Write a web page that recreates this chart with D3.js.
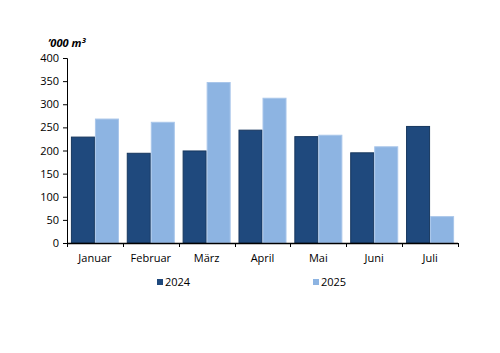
<!DOCTYPE html>
<html>
<head>
<meta charset="utf-8">
<script src="https://cdn.jsdelivr.net/npm/d3@7"></script>
<style>
  body { margin: 0; background: #fff; }
  text { font-family: "Open Sans", sans-serif; fill: #000; }
</style>
</head>
<body>
<div id="chart"></div>
<script>
var months = ["Januar", "Februar", "März", "April", "Mai", "Juni", "Juli"];
var years = ["2024", "2025"];
var values2024 = [229, 194, 199, 244, 230, 195, 252];
var values2025 = [268, 261, 347, 313, 233, 208, 57];
var yTicks = [0, 50, 100, 150, 200, 250, 300, 350, 400];

var colors = {"2024": "#1f497d", "2025": "#8db4e2"};
var strokes = {"2024": "#17375e", "2025": "#a9c6ea"};

var svg = d3.select("#chart")
  .append("svg")
  .attr("width", 500)
  .attr("height", 353);

var padding = {left: 67, right: 42, top: 58, bottom: 110};

var x = d3.scaleBand()
  .domain(months)
  .range([padding.left, 500 - padding.right])
  .paddingInner(0.14)
  .paddingOuter(0.07);

var x2 = d3.scaleBand()
  .domain(years)
  .range([0, x.bandwidth()]);

var y = d3.scaleLinear()
  .domain([0, 400])
  .range([353 - padding.bottom, padding.top]);

var data = months.map(function(m, i){
  return {month: m, vals: [
    {year: "2024", v: values2024[i]},
    {year: "2025", v: values2025[i]}
  ]};
});

var groups = svg.selectAll(".grp")
  .data(data)
  .enter()
  .append("g")
  .attr("class", "grp")
  .attr("transform", function(d){ return "translate(" + x(d.month) + ",0)"; });

groups.selectAll("rect")
  .data(function(d){ return d.vals; })
  .enter()
  .append("rect")
  .attr("x", function(d){ return x2(d.year) + 0.5; })
  .attr("y", function(d){ return y(d.v); })
  .attr("width", x2.bandwidth() - 1)
  .attr("height", function(d){ return y(0) - y(d.v); })
  .attr("fill", function(d){ return colors[d.year]; })
  .attr("stroke", function(d){ return strokes[d.year]; })
  .attr("stroke-width", 1);

// y axis
var yAxis = svg.append("g")
  .attr("transform", "translate(" + padding.left + ",0)")
  .call(d3.axisLeft(y).tickValues(yTicks).tickSize(4).tickPadding(4));
yAxis.select(".domain").attr("stroke", "#000");
yAxis.selectAll("text").style("font-size", "11px");

// x axis, ticks between the groups
var step = x.step();
var edges = d3.range(months.length + 1).map(function(i){
  return x(months[0]) - x.paddingInner() * step / 2 + i * step;
});
var xAxis = svg.append("g").attr("class", "xaxis");
xAxis.append("line")
  .attr("x1", padding.left).attr("x2", edges[edges.length - 1])
  .attr("y1", y(0) + 0.5).attr("y2", y(0) + 0.5)
  .attr("stroke", "#000").attr("stroke-width", 1.5);
xAxis.selectAll(".tk")
  .data(edges)
  .enter()
  .append("line")
  .attr("x1", function(d){ return Math.round(d) + 0.5; })
  .attr("x2", function(d){ return Math.round(d) + 0.5; })
  .attr("y1", y(0))
  .attr("y2", y(0) + 4)
  .attr("stroke", "#000");
xAxis.selectAll(".lbl")
  .data(months)
  .enter()
  .append("text")
  .attr("x", function(d){ return x(d) + x.bandwidth() / 2; })
  .attr("y", y(0) + 19)
  .attr("text-anchor", "middle")
  .style("font-size", "11px")
  .text(function(d){ return d; });

// unit label
svg.append("text")
  .attr("x", 48)
  .attr("y", 47)
  .style("font-size", "11px")
  .style("font-style", "italic")
  .style("font-weight", "bold")
  .text("’000 m³");

// legend
var legendX = [157, 313];
var legend = svg.selectAll(".leg")
  .data(years)
  .enter()
  .append("g")
  .attr("transform", function(d, i){ return "translate(" + legendX[i] + ",279)"; });
legend.append("rect")
  .attr("width", 6)
  .attr("height", 6)
  .attr("fill", function(d){ return colors[d]; });
legend.append("text")
  .attr("x", 8)
  .attr("y", 7)
  .style("font-size", "11px")
  .text(function(d){ return d; });
</script>
</body>
</html>
